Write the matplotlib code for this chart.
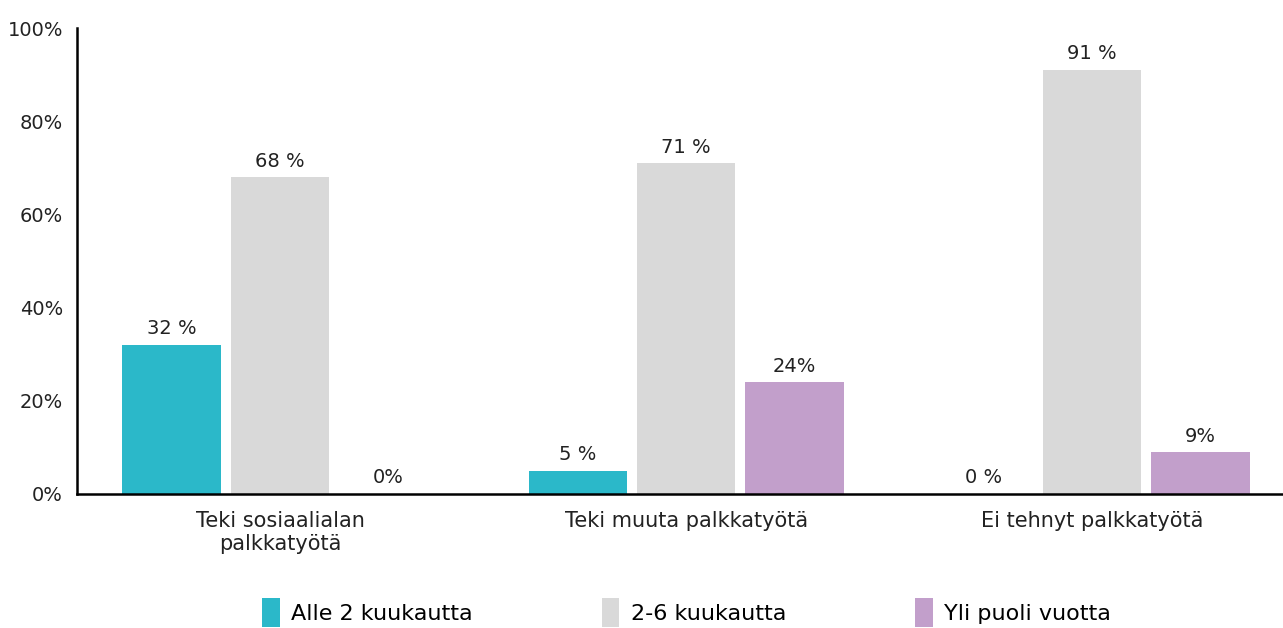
import numpy as np
import matplotlib.pyplot as plt
from matplotlib.patches import Patch

categories = ["Teki sosiaalialan\npalkkatyötä", "Teki muuta palkkatyötä", "Ei tehnyt palkkatyötä"]
series_names = ["Alle 2 kuukautta", "2-6 kuukautta", "Yli puoli vuotta"]
alle_2 = [32, 5, 0]
kk_2_6 = [68, 71, 91]
yli_puoli = [0, 24, 9]
labels_alle_2 = ["32 %", "5 %", "0 %"]
labels_2_6 = ["68 %", "71 %", "91 %"]
labels_yli = ["0%", "24%", "9%"]
yticks = [0, 20, 40, 60, 80, 100]

colors = ["#2BB8C9", "#D9D9D9", "#C29FCB"]

plt.rcParams['font.family'] = ['DejaVu Sans']

fig = plt.figure(figsize=(12.83, 6.28), dpi=100)
ax = fig.add_axes([0.06, 0.2134, 0.94, 0.742])

x = np.arange(len(categories))
w = 0.242
off = 0.267
series = [alle_2, kk_2_6, yli_puoli]
texts = [labels_alle_2, labels_2_6, labels_yli]
for i, (vals, labs) in enumerate(zip(series, texts)):
    pos = x + (i - 1) * off
    ax.bar(pos, vals, width=w, color=colors[i], label=series_names[i])
    for p, v, t in zip(pos, vals, labs):
        ax.text(p, v + 1.4, t, ha="center", va="bottom", fontsize=14, color="#222222")

ax.set_xlim(-0.5, 2.47)
ax.set_ylim(0, 100)
ax.set_yticks(yticks)
ax.set_yticklabels([f"{t}%" for t in yticks], fontsize=14, color="#222222")
ax.set_xticks(x)
ax.set_xticklabels(categories, fontsize=15, color="#222222")
ax.tick_params(axis="both", length=0)
ax.tick_params(axis="y", pad=10)
ax.tick_params(axis="x", pad=12)
for s in ["top", "right"]:
    ax.spines[s].set_visible(False)
for s in ["left", "bottom"]:
    ax.spines[s].set_linewidth(1.8)
    ax.spines[s].set_color("black")

handles = [Patch(facecolor=c, label=n) for c, n in zip(colors, series_names)]
fig.legend(handles=handles, loc="center", bbox_to_anchor=(0.535, 0.025), ncol=3,
           frameon=False, fontsize=16, handlelength=0.8, handleheight=1.6,
           handletextpad=0.5, columnspacing=5.8)

plt.savefig("out.png", dpi=100)
